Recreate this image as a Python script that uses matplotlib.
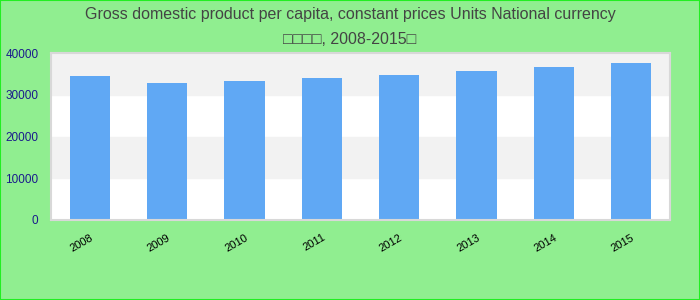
import matplotlib.pyplot as plt
from matplotlib.patches import Rectangle

# data
years = ['2008', '2009', '2010', '2011', '2012', '2013', '2014', '2015']
gdp = [34490, 32810, 33290, 34010, 34730, 35690, 36650, 37600]
yticks = [0, 10000, 20000, 30000, 40000]

plt.rcParams['font.family'] = ['Liberation Sans', 'DejaVu Sans']

fig = plt.figure(figsize=(7, 3), dpi=100, facecolor='#90ee90')
fig.patches.append(Rectangle((0, 0), 1, 1, transform=fig.transFigure,
                             fill=False, edgecolor='#22ee22', linewidth=1.5))

ax = fig.add_axes([51 / 700, 80 / 300, 619 / 700, 167 / 300])
ax.set_facecolor('white')

# alternating horizontal bands
for i in range(len(yticks) - 1):
    if i % 2 == 1:
        ax.axhspan(yticks[i], yticks[i + 1], color='#f2f2f2', zorder=0)

x = range(len(years))
ax.bar(x, gdp, width=0.52, color='#60a8f4', zorder=2)

ax.set_xlim(-0.5, len(years) - 0.5)
ax.set_ylim(0, 40000)
ax.set_yticks(yticks)
ax.set_yticklabels([str(v) for v in yticks], color='#1a1a8c', fontsize=8.5)
ax.set_xticks(list(x))
ax.set_xticklabels(years, rotation=30, ha='right', rotation_mode='anchor',
                   fontsize=8, color='black')
ax.tick_params(length=0)
ax.tick_params(axis='y', pad=9)
ax.tick_params(axis='x', pad=9)
for s in ax.spines.values():
    s.set_color('#d8d8d8')
    s.set_linewidth(1.5)

fig.text(0.5, 1 - 14 / 300, 'Gross domestic product per capita, constant prices Units National currency',
         ha='center', va='center', fontsize=11.5, color='#444444')
fig.text(0.5, 1 - 40 / 300, '\u25a1\u25a1\u25a1\u25a1, 2008-2015\u25a1',
         ha='center', va='center', fontsize=11.5, color='#444444')

fig.savefig('out.png', dpi=100, facecolor=fig.get_facecolor())
